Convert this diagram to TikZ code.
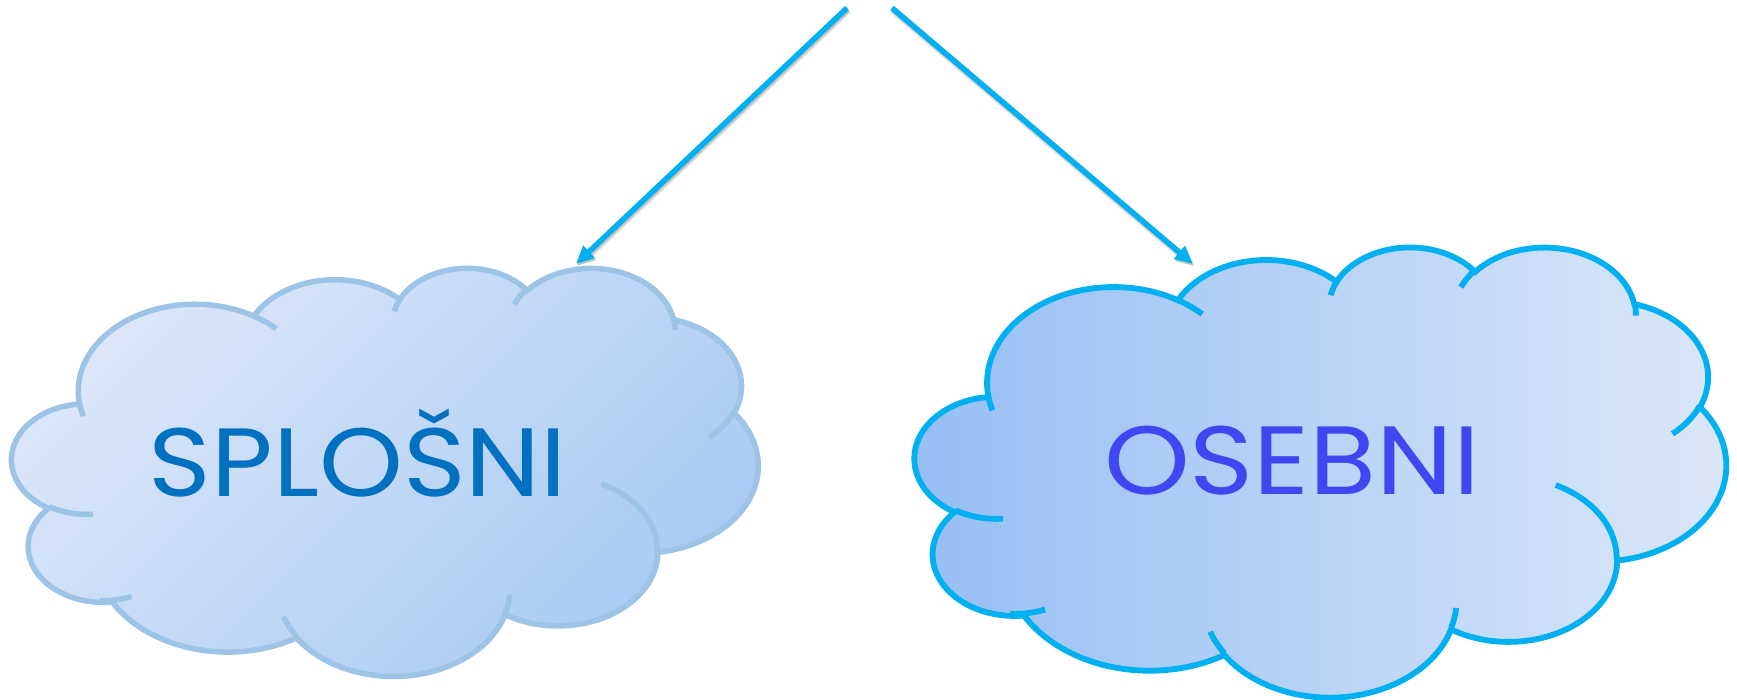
\documentclass[tikz,border=0pt]{standalone}
\usepackage{fontspec}
\setmainfont{Poppins}
\usetikzlibrary{arrows.meta}
\definecolor{lcloudline}{HTML}{9DC3E6}
\definecolor{lcloudA}{HTML}{DCE7F9}
\definecolor{lcloudB}{HTML}{A6C9F3}
\definecolor{rcloudline}{HTML}{00B0F0}
\definecolor{rcloudA}{HTML}{95BEF4}
\definecolor{rcloudB}{HTML}{DDE8F8}
\definecolor{arrowcol}{HTML}{00B0F0}
\definecolor{ltext}{HTML}{0070C0}
\definecolor{rtext}{HTML}{4047F0}
\newcommand\mycloud[1]{%
  \path[#1] (39.00,143.70)
    arc[start angle=-187.746, end angle=-59.637, x radius=67.53, y radius=91.90]
    arc[start angle=-152.02, end angle=-45.462, x radius=53.33, y radius=72.67]
    arc[start angle=-153.50, end angle=-37.31, x radius=43.65, y radius=59.45]
    arc[start angle=-139.70, end angle=-10.211, x radius=48.57, y radius=65.95]
    arc[start angle=-74.77, end angle=23.209, x radius=53.33, y radius=72.73]
    arc[start angle=-37.51, end angle=81.863, x radius=67.75, y radius=92.20]
    arc[start angle=0.4597, end angle=121.98, x radius=57.85, y radius=78.67]
    arc[start angle=16.843, end angle=146.22, x radius=67.52, y radius=92.15]
    arc[start angle=58.98, end angle=150.18, x radius=77.20, y radius=105.43]
    arc[start angle=83.306, end angle=223.11, x radius=43.60, y radius=59.18]
    arc[start angle=120.36, end angle=264.11, x radius=43.45, y radius=59.45]
    -- cycle;}
\newcommand\mycreases[1]{%
  \draw[#1] (46.93,261.77) arc[start angle=85.546, end angle=120.36, x radius=43.45, y radius=59.45];
  \draw[#1] (69.28,348.99) arc[start angle=68.24, end angle=93.127, x radius=43.60, y radius=59.18];
  \draw[#1] (164.78,390.90) arc[start angle=146.22, end angle=160.60, x radius=67.52, y radius=92.15];
  \draw[#1] (288.27,347.51) arc[start angle=4.737, end angle=16.843, x radius=67.52, y radius=92.15];
  \draw[#1] (341.29,229.54) arc[start angle=-64.03, end angle=0.4597, x radius=57.85, y radius=78.67];
  \draw[#1] (417.98,153.54) arc[start angle=23.209, end angle=49.65, x radius=53.33, y radius=72.73];
  \draw[#1] (383.24,54.26) arc[start angle=-10.211, end angle=0.821, x radius=48.57, y radius=65.95];
  \draw[#1] (290.78,39.52) arc[start angle=-156.27, end angle=-139.70, x radius=48.57, y radius=65.95];
  \draw[#1] (221.41,47.20) arc[start angle=-167.73, end angle=-153.50, x radius=43.65, y radius=59.45];
  \draw[#1] (140.00,51.92) arc[start angle=-59.637, end angle=-45.74, x radius=67.53, y radius=91.90];
  \draw[#1] (41.27,157.89) arc[start angle=163.19, end angle=172.25, x radius=67.53, y radius=91.90];}
\tikzset{
  lcloud/.style={draw=lcloudline, line width=5.5pt, top color=lcloudA, bottom color=lcloudB, shading angle=45},
  lcrease/.style={draw=lcloudline, line width=5.5pt},
  rcloud/.style={draw=rcloudline, line width=5.8pt, left color=rcloudA, right color=rcloudB},
  rcrease/.style={draw=rcloudline, line width=5.8pt},
  bigtext/.style={font=\fontsize{97}{100}\selectfont, inner sep=0pt, anchor=base},
  arrowline/.style={draw=arrowcol, line width=5.5pt, -{Triangle[length=18pt,width=16pt]},
    preaction={draw=black, opacity=0.10, line width=8pt, transform canvas={xshift=1pt,yshift=-2pt}},
    preaction={draw=black, opacity=0.15, line width=5pt, transform canvas={xshift=1pt,yshift=-2pt}}}
}
\begin{document}
\begin{tikzpicture}[x=1pt,y=-1pt]
\useasboundingbox (0,0) rectangle (1737,700);
% left cloud
\begin{scope}[xshift=12pt, yshift=-267pt, x=1.72685pt, y=-0.94444pt]
  \mycloud{lcloud}
  \mycreases{lcrease}
\end{scope}
% right cloud
\begin{scope}[xshift=915pt, yshift=-246pt, x=1.87731pt, y=-1.04167pt]
  \mycloud{rcloud}
  \mycreases{rcrease}
\end{scope}
\node[bigtext, text=ltext] (splosni) at (358,496) {\resizebox{418pt}{\height}{SPLOŠNI}};
\node[bigtext, text=rtext] (osebni) at (1292,494) {\resizebox{376pt}{\height}{OSEBNI}};
\coordinate (srcL) at (847,8);
\coordinate (tipL) at (576,264);
\coordinate (srcR) at (892,8);
\coordinate (tipR) at (1193,264);
\draw[arrowline] (srcL) -- (tipL);
\draw[arrowline] (srcR) -- (tipR);
\end{tikzpicture}
\end{document}
